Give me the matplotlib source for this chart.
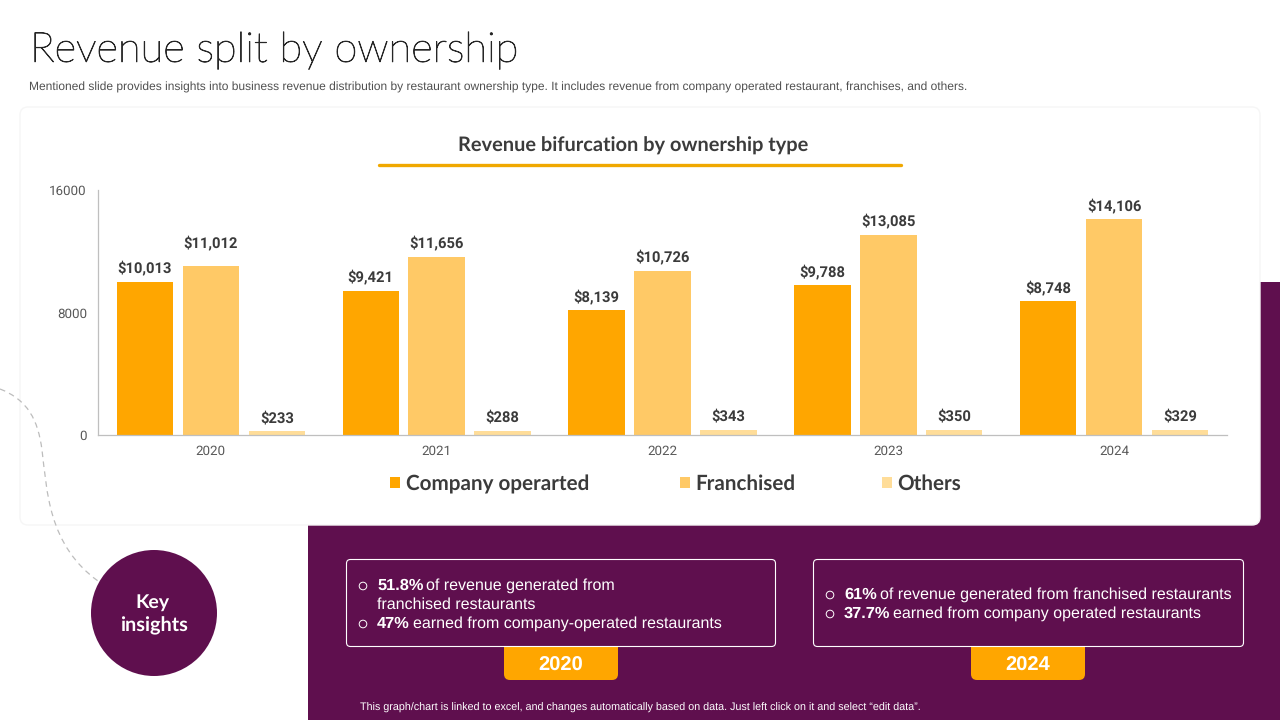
import numpy as np
import matplotlib
matplotlib.use('Agg')
import matplotlib.pyplot as plt
import matplotlib.patheffects as pe
from matplotlib.patches import FancyBboxPatch, Rectangle, Circle, PathPatch
from matplotlib.path import Path

plt.rcParams['text.hinting'] = 'none'
plt.rcParams['text.hinting_factor'] = 8

years = ['2020', '2021', '2022', '2023', '2024']
company = [10013, 9421, 8139, 9788, 8748]
franchised = [11012, 11656, 10726, 13085, 14106]
others = [233, 288, 343, 350, 329]
series_names = ['Company operarted', 'Franchised', 'Others']
yticks = [0, 8000, 16000]

PURPLE = '#5F0F4E'
ORANGE = '#FFA600'
MID = '#FFC966'
LIGHT = '#FFDD99'
DARK = '#3B3B3B'
BODY = 'Liberation Sans'
HEAD = 'Lato'

fig = plt.figure(figsize=(12.8, 7.2), dpi=100, facecolor='white')
bg = fig.add_axes([0, 0, 1, 1], zorder=0)
bg.set_xlim(0, 1280); bg.set_ylim(720, 0); bg.axis('off')

def rrect(x0, y0, x1, y1, r, ax=bg, **kw):
    p = FancyBboxPatch((x0 + r, y0 + r), x1 - x0 - 2 * r, y1 - y0 - 2 * r,
                       boxstyle=f'round,pad={r},rounding_size={r}', **kw)
    ax.add_patch(p)
    return p

# purple background band
bg.add_patch(Rectangle((308, 282), 972, 438, fc=PURPLE, ec='none', zorder=1))

# white card with faint edge
rrect(20, 107, 1260, 525, 8, fc='white', ec='#F6F6F6', lw=1.0, zorder=2)

# dashed connector, drawn over the card
verts = [(0, 389), (28, 400), (38, 420), (42, 450), (47, 490), (48, 545), (98, 581)]
codes = [Path.MOVETO] + [Path.CURVE4] * 6
bg.add_patch(PathPatch(Path(verts, codes), fc='none', ec='#BDBDBD', lw=0.9,
                       ls=(0, (4.5, 3.5)), zorder=3))

# titles
title = bg.text(30, 50.5, 'Revenue split by ownership', fontsize=30, family=HEAD, weight='light',
                color='#262626', va='center', ha='left', zorder=5)
title.set_path_effects([pe.withStroke(linewidth=0.6, foreground='#262626')])
bg.text(29, 87.5, 'Mentioned slide provides insights into business revenue distribution by restaurant '
        'ownership type. It includes revenue from company operated restaurant, franchises, and others.',
        fontsize=8.68, family=BODY, color='#505050', va='center', ha='left', zorder=5)
bg.text(633, 146, 'Revenue bifurcation by ownership type', fontsize=14.45, family=HEAD,
        weight='bold', color=DARK, va='center', ha='center', zorder=5)
bg.plot([379, 901], [164.5, 164.5], color='#F0A800', lw=2.4, solid_capstyle='round', zorder=5)

# chart
ax = fig.add_axes([98 / 1280, 1 - 435 / 720, (1227 - 98) / 1280, (435 - 190) / 720], zorder=3)
ax.patch.set_alpha(0)
x = np.arange(len(years))
off = 0.292
w = 0.25
groups = [(company, ORANGE, -off), (franchised, MID, 0), (others, LIGHT, off)]
for vals, col, d in groups:
    bars = ax.bar(x + d, vals, width=w, color=col, linewidth=0)
    for b, v in zip(bars, vals):
        # the 2020 franchised label sits higher above its bar in the reference
        gap = 15 if v == 11012 else (6 if v < 1000 else 5)
        ax.annotate(f'${v:,}', (b.get_x() + b.get_width() / 2, v), xytext=(0, gap),
                    textcoords='offset pixels', ha='center', va='bottom', fontsize=10.6,
                    family='Roboto', weight='bold', color=DARK)
ax.set_xlim(-0.5, 4.5)
ax.set_ylim(0, 16000)
ax.set_xticks(x, years)
ax.set_yticks(yticks)
ax.tick_params(length=0, labelsize=9.6, labelcolor='#595959')
ax.tick_params(axis='x', pad=7)
ax.tick_params(axis='y', pad=8)
for l in ax.get_xticklabels() + ax.get_yticklabels():
    l.set_family('Roboto')
for s in ['top', 'right']:
    ax.spines[s].set_visible(False)
for s in ['left', 'bottom']:
    ax.spines[s].set_color('#BFBFBF')
    ax.spines[s].set_linewidth(0.9)

# overlay for legend and lower shapes
top = fig.add_axes([0, 0, 1, 1], zorder=4)
top.set_xlim(0, 1280); top.set_ylim(720, 0); top.axis('off'); top.patch.set_alpha(0)

for name, col, sx, tx in zip(series_names, [ORANGE, MID, LIGHT], [390, 680, 882], [405.5, 695.5, 897.5]):
    top.add_patch(Rectangle((sx, 477), 10, 11, fc=col, ec='none'))
    top.text(tx, 490, name, fontsize=14.9, family=HEAD, weight='bold', color=DARK,
             va='baseline', ha='left')

# key insights circle
top.add_patch(Circle((154, 613), 63, fc=PURPLE, ec='none'))
top.text(152, 602.5, 'Key', fontsize=14, family=HEAD, weight='bold', color='white', ha='center', va='center')
top.text(154, 625.5, 'insights', fontsize=14.3, family=HEAD, weight='bold', color='white', ha='center', va='center')

# insight boxes
rrect(504, 640, 618, 680, 6, ax=top, fc=ORANGE, ec='none', zorder=1)
rrect(971, 640, 1085, 680, 6, ax=top, fc=ORANGE, ec='none', zorder=1)
rrect(346.5, 559.5, 775.5, 646.5, 4, ax=top, fc=PURPLE, ec='white', lw=0.8, zorder=2)
rrect(813.5, 559.5, 1243.5, 646.5, 4, ax=top, fc=PURPLE, ec='white', lw=0.8, zorder=2)
top.text(561, 671, '2020', fontsize=14.5, family=BODY, weight='bold', color='white', ha='center', va='baseline')
top.text(1028, 671, '2024', fontsize=14.5, family=BODY, weight='bold', color='white', ha='center', va='baseline')

renderer = fig.canvas.get_renderer()
def rich(xp, base, bold, rest, size=11.5):
    t = top.text(xp, base, bold, fontsize=11.8, family=BODY, weight='bold', color='white',
                 va='baseline', ha='left', zorder=6)
    bb = t.get_window_extent(renderer)
    top.text(bb.x1 + 3, base, rest, fontsize=size, family=BODY, color='white',
             va='baseline', ha='left', zorder=6)

def bullet(xp, yp):
    top.add_patch(Circle((xp, yp), 3.8, fc='none', ec='white', lw=0.7, zorder=6))

bullet(363, 586); rich(377, 590, '51.8%', 'of revenue generated from')
top.text(377, 609, 'franchised restaurants', fontsize=11.5, family=BODY, color='white', va='baseline', ha='left', zorder=6)
bullet(363, 624); rich(377, 628, '47%', 'earned from company-operated restaurants')
bullet(830, 595); rich(844, 599, '61%', 'of revenue generated from franchised restaurants')
bullet(830, 614); rich(844, 618, '37.7%', 'earned from company operated restaurants')

top.text(360, 711, 'This graph/chart is linked to excel, and changes automatically based on data. '
         'Just left click on it and select \u201cedit data\u201d.', fontsize=7.76, family=BODY,
         color='white', va='baseline', ha='left')

fig.savefig('out.png', dpi=100)
